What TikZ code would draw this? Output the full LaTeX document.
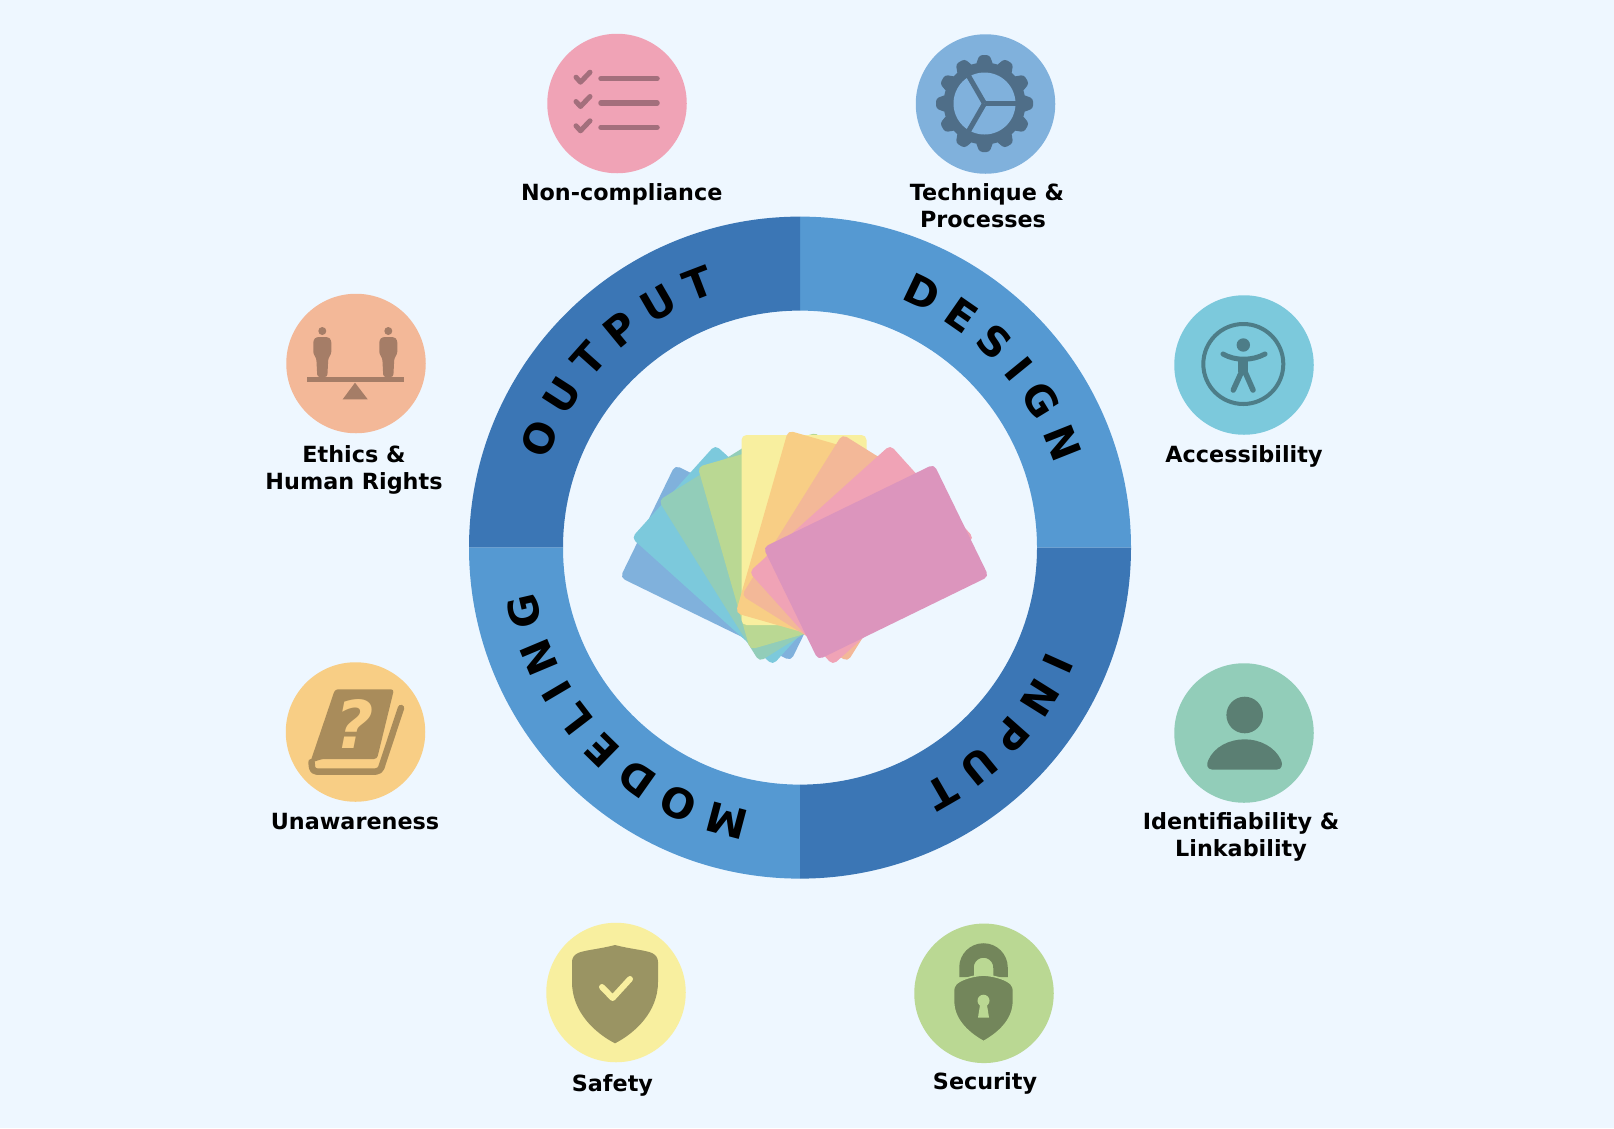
\documentclass[tikz,border=0pt]{standalone}
\usepackage{fontspec}
\setmainfont{DejaVu Sans}
\usetikzlibrary{decorations.text}
\definecolor{bgc}{HTML}{EEF7FF}
\definecolor{ringdark}{HTML}{3B76B5}
\definecolor{ringlight}{HTML}{5599D2}
\definecolor{cblue}{HTML}{80B1DC}
\definecolor{ccyan}{HTML}{7CC9DC}
\definecolor{cteal}{HTML}{92CDB9}
\definecolor{clime}{HTML}{BAD893}
\definecolor{cyell}{HTML}{F8EF9F}
\definecolor{cgold}{HTML}{F8CE85}
\definecolor{cpeach}{HTML}{F3B898}
\definecolor{cpink}{HTML}{F0A3B6}
\definecolor{cmag}{HTML}{DC95BD}
\newcommand{\labelfont}{\fontsize{22.3}{26.8}\selectfont\bfseries}
\newcommand{\ringfont}{\fontsize{41}{41}\selectfont\bfseries}
\tikzset{
  badge/.style={circle,inner sep=0pt,minimum size=139.5pt},
  card/.style={rectangle,rounded corners=5pt,inner sep=0pt,minimum width=125pt,minimum height=190pt},
  lab/.style={anchor=base,align=center,font=\labelfont,text=black,inner sep=0pt},
  ringtext/.style={decorate,decoration={text along path,text align=fit to path,text={|\ringfont|#1}}},
}
\begin{document}
\begin{tikzpicture}[x=1pt,y=-1pt]
\fill[bgc] (0,0) rectangle (1614,1128);
\useasboundingbox (0,0) rectangle (1614,1128);
% ring
\coordinate (rc) at (800,547.6);
\fill[ringlight] (rc) ++(0:331) arc[start angle=0,end angle=-90,radius=331] -- ++(0,94) arc[start angle=-90,end angle=0,radius=237] -- cycle;
\fill[ringdark] (rc) ++(-90:331) arc[start angle=-90,end angle=-180,radius=331] -- ++(94,0) arc[start angle=-180,end angle=-90,radius=237] -- cycle;
\fill[ringlight] (rc) ++(180:331) arc[start angle=180,end angle=90,radius=331] -- ++(0,-94) arc[start angle=90,end angle=180,radius=237] -- cycle;
\fill[ringdark] (rc) ++(90:331) arc[start angle=90,end angle=0,radius=331] -- ++(-94,0) arc[start angle=0,end angle=90,radius=237] -- cycle;
\path[ringtext={DESIGN}] (rc) ++(-68:268) arc[start angle=-68,end angle=-18,radius=268];
\path[ringtext={OUTPUT}] (rc) ++(-161:268) arc[start angle=-161,end angle=-108,radius=268];
\path[ringtext={INPUT}] (rc) ++(22.5:268) arc[start angle=22.5,end angle=63,radius=268];
\path[ringtext={MODELING}] (rc) ++(100.5:268) arc[start angle=100.5,end angle=170.5,radius=268];
% cards
\node[card,fill=cblue,rotate=64] (k1) at (733,563) {};
\node[card,fill=ccyan,rotate=48] (k2) at (744,555) {};
\node[card,fill=cteal,rotate=32] (k3) at (762,548) {};
\node[card,fill=clime,rotate=16] (k4) at (784,541) {};
\node[card,fill=cyell] (k5) at (804,530) {};
\node[card,fill=cgold,rotate=-16] (k6) at (822,539) {};
\node[card,fill=cpeach,rotate=-32] (k7) at (845,548) {};
\node[card,fill=cpink,rotate=-48] (k8) at (861.5,555) {};
\node[card,fill=cmag,rotate=-64] (k9) at (876,562) {};
% badges
\node[badge,fill=cpink] (b1) at (617,103.5) {};
\node[badge,fill=cblue] (b2) at (985.5,104) {};
\node[badge,fill=cpeach] (b3) at (356,363.5) {};
\node[badge,fill=ccyan] (b4) at (1244,365) {};
\node[badge,fill=cgold] (b5) at (355.5,732) {};
\node[badge,fill=cteal] (b6) at (1244,733) {};
\node[badge,fill=cyell] (b7) at (616,992.5) {};
\node[badge,fill=clime] (b8) at (984,993.3) {};
% labels
\node[lab] (l1) at (621.7,200) {Non-compliance};
\node[lab] (l2) at (983,227.5) {\hspace*{8pt}Technique \&\\Processes};
\node[lab] (l3) at (354,489.5) {Ethics \&\\Human Rights};
\node[lab] (l4) at (1244,462.7) {Accessibility};
\node[lab] (l5) at (355,829) {Unawareness};
\node[lab] (l6) at (1241,856) {Identifiability \&\\Linkability};
\node[lab] (l7) at (612.4,1091) {Safety};
\node[lab] (l8) at (985,1089.5) {Security};
% checklist icon
\colorlet{ic}{cpink!68!black}
\begin{scope}[draw=ic,line cap=round,line join=round]
\foreach \yy in {78.7,103,127.3}{
  \draw[line width=5.5pt] (601,\yy) -- (657,\yy);
  \draw[line width=5pt] (576,\yy-1.5) -- (580.5,\yy+3.5) -- (590,\yy-6.5);
}
\end{scope}
% gear icon
\colorlet{ic}{cblue!62!black}
\fill[ic] (984.5,103.5) circle[radius=41];
\foreach \aa in {0,30,...,330}{
  \fill[ic,rotate around={\aa:(984.5,103.5)},rounded corners=3pt] (984.5+38,103.5-9) -- (984.5+48.5,103.5-5) -- (984.5+48.5,103.5+5) -- (984.5+38,103.5+9) -- cycle;
}
\fill[cblue] (984.5,103.5) circle[radius=31];
\draw[ic,line width=5pt] (984.5,103.5) -- ++(0:32);
\draw[ic,line width=5pt] (984.5,103.5) -- ++(120:32);
\draw[ic,line width=5pt] (984.5,103.5) -- ++(240:32);
% balance icon
\colorlet{ic}{cpeach!68!black}
\fill[ic] (306.7,376.5) rectangle (404,381.5);
\fill[ic] (355,382.7) -- (367.7,399.3) -- (342.7,399.3) -- cycle;
\foreach \xx in {322.3,388.3}{
  \fill[ic] (\xx,331) circle[radius=4];
  \fill[ic,rounded corners=2.5pt] (\xx-6,337) -- (\xx+6,337) -- (\xx+9,340) -- (\xx+9,354) -- (\xx+6,358) -- (\xx+5,377) -- (\xx-5,377) -- (\xx-6,358) -- (\xx-9,354) -- (\xx-9,340) -- cycle;
}
% book icon
\colorlet{ic}{cgold!68!black}
\fill[ic,rounded corners=3pt] (335,689.3) -- (394,689.3) -- (377,759) -- (322,759) -- (310,763) -- cycle;
\draw[ic,line width=6.5pt,line cap=round,line join=round,rounded corners=4pt] (311.5,762) -- (312.5,771.5) -- (380,771.5) -- (401,708);
\node[inner sep=0pt,text=cgold,font=\fontsize{66}{66}\selectfont\bfseries\itshape] (qm) at (355,724) {?};
% accessibility icon
\colorlet{ic}{ccyan!62!black}
\draw[ic,line width=4pt] (1243.3,364) circle[radius=40];
\fill[ic] (1243.3,345) circle[radius=6.7];
\draw[ic,line width=5pt,line cap=round] (1223,354) .. controls (1235,361) and (1252,361) .. (1265,354);
\draw[ic,line width=10pt] (1243.3,358) -- (1243.3,372);
\draw[ic,line width=5.5pt,line cap=round,line join=round] (1233.3,390) -- (1243.3,368) -- (1253,390);
% person icon
\colorlet{ic}{cteal!62!black}
\fill[ic] (1244.7,715) circle[radius=18.3];
\fill[ic] (1212,769.5) -- (1277,769.5) .. controls (1282,769.5) and (1283,764) .. (1281,760) .. controls (1275,747) and (1260,739.3) .. (1244.7,739.3) .. controls (1229,739.3) and (1214,747) .. (1208.4,760) .. controls (1206,764) and (1207,769.5) .. (1212,769.5) -- cycle;
% shield icon
\colorlet{ic}{cyell!62!black}
\fill[ic] (615,945) .. controls (600,949) and (585,950) .. (578,953) .. controls (574,955) and (572,958) .. (572,962) -- (572,982) .. controls (572,1012) and (595,1033) .. (615,1043.3) .. controls (635,1033) and (658,1012) .. (658,982) -- (658,962) .. controls (658,958) and (656,955) .. (652,953) .. controls (645,950) and (630,949) .. (615,945) -- cycle;
\draw[cyell,line width=6pt,line cap=round,line join=round] (602,987) -- (612.6,998) -- (630,979);
% lock icon
\colorlet{ic}{clime!62!black}
\draw[ic,line width=14.5pt] (966.5,977) -- (966.5,967.5) arc[start angle=180,end angle=360,radius=17] -- (1000.5,977);
\fill[ic,draw=clime,line width=1.5pt] (983.5,975) .. controls (970,976) and (960,980) .. (956,984) .. controls (954,986) and (953.6,988) .. (953.6,992) -- (953.6,1002) .. controls (954,1021) and (970,1034) .. (983.5,1041.5) .. controls (997,1034) and (1013,1021) .. (1013.4,1002) -- (1013.4,992) .. controls (1013.4,988) and (1013,986) .. (1011,984) .. controls (1007,980) and (997,976) .. (983.5,975) -- cycle;
\fill[clime] (983.5,1000.7) circle[radius=6];
\fill[clime] (980.5,1002) -- (986.5,1002) -- (989,1017.5) -- (978,1017.5) -- cycle;
\end{tikzpicture}
\end{document}
